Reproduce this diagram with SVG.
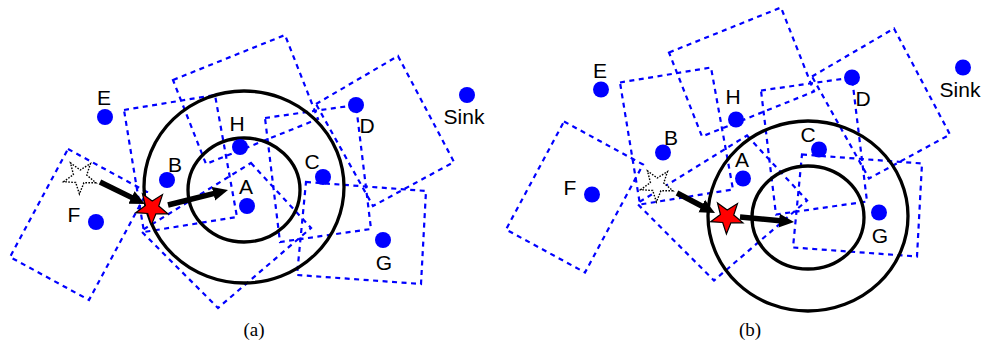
<svg xmlns="http://www.w3.org/2000/svg" xmlns:xlink="http://www.w3.org/1999/xlink" width="981" height="346" viewBox="0 0 981 346">
<style>
.cell{fill:none;stroke:#0000ff;stroke-width:2.2;stroke-dasharray:5 4.5}
.ring{fill:none;stroke:#000;stroke-width:3.3}
.dot{fill:#0000ff}
.lbl{font-family:"Liberation Sans",Arial,sans-serif;font-size:21px;fill:#000;text-anchor:middle}
.cap{font-family:"Liberation Serif","Times New Roman",serif;font-size:19px;fill:#000;text-anchor:middle}
.arrow{stroke:#000;stroke-width:5.5;fill:none;marker-end:url(#ah)}
.red{fill:#ff0000;stroke:#000;stroke-width:1.2}
.ghost{fill:#fff;stroke:#000;stroke-width:1.4;stroke-dasharray:1.6 1.4}
</style>
<defs>
<marker id="ah" markerWidth="16" markerHeight="16" refX="1" refY="8" orient="auto" markerUnits="userSpaceOnUse" viewBox="0 0 16 16"><path d="M0,1 L15,8 L0,15 z" fill="#000"/></marker>
<polygon id="star" points="15.97,5.81 3.91,5.80 -0.59,16.99 -4.31,5.52 -16.34,4.69 -6.58,-2.39 -9.51,-14.09 0.24,-7.00 10.47,-13.40 6.73,-1.93"/>
<g id="cells">
<path class="cell" d="M68,149 L147,192 L89,300 L10,257 Z"/>
<path class="cell" d="M124,110 L215,95 L237,217 L144,232 Z"/>
<path class="cell" d="M173,80 L285,35 L318,119 L206,164 Z"/>
<path class="cell" d="M316,104 L398,56 L454,162 L373,206 Z"/>
<path class="cell" d="M265,118 L356,105 L371,229 L280,242 Z"/>
<path class="cell" d="M306,182 L426,191 L421,284 L297,275 Z"/>
<path class="cell" d="M251,163 L311,228 L218,308 L141,231 Z"/>
</g>
</defs>
<rect width="981" height="346" fill="#fff"/>

<!-- panel (a) -->
<g id="panel-a">
<use xlink:href="#cells"/>
<ellipse class="ring" cx="244" cy="187" rx="100" ry="96"/>
<ellipse class="ring" cx="244" cy="190" rx="56" ry="52"/>
<g id="a-E"><circle class="dot" cx="105" cy="117" r="8"/><text class="lbl" x="104" y="105">E</text></g>
<g id="a-H"><circle class="dot" cx="240" cy="147" r="8"/><text class="lbl" x="237" y="131">H</text></g>
<g id="a-B"><circle class="dot" cx="167" cy="180" r="8"/><text class="lbl" x="175" y="172">B</text></g>
<g id="a-A"><circle class="dot" cx="247" cy="206" r="8"/><text class="lbl" x="246" y="194">A</text></g>
<g id="a-C"><circle class="dot" cx="323" cy="177" r="8"/><text class="lbl" x="312" y="169">C</text></g>
<g id="a-D"><circle class="dot" cx="356" cy="105" r="8"/><text class="lbl" x="367" y="133">D</text></g>
<g id="a-G"><circle class="dot" cx="383" cy="240" r="8"/><text class="lbl" x="384" y="270">G</text></g>
<g id="a-F"><circle class="dot" cx="96" cy="222" r="8"/><text class="lbl" x="74" y="222">F</text></g>
<g id="a-Sink"><circle class="dot" cx="467" cy="95" r="8"/><text class="lbl" x="464" y="124">Sink</text></g>
<use xlink:href="#star" class="ghost" transform="translate(80,177)"/>
<use xlink:href="#star" class="red" transform="translate(152,208)"/>
<g id="a-arrows">
<line class="arrow" x1="100" y1="182" x2="132.4" y2="197.9"/>
<line class="arrow" x1="168" y1="205" x2="214.4" y2="193.4"/>
</g>
<text class="cap" x="254" y="336">(a)</text>
</g>

<!-- panel (b) -->
<g id="panel-b">
<use xlink:href="#cells" transform="translate(496,-27.5)"/>
<ellipse class="ring" cx="808" cy="216" rx="100" ry="95"/>
<ellipse class="ring" cx="808" cy="217.5" rx="56" ry="51.5"/>
<g id="b-E"><circle class="dot" cx="601" cy="89.5" r="8"/><text class="lbl" x="600" y="77.5">E</text></g>
<g id="b-H"><circle class="dot" cx="736" cy="119.5" r="8"/><text class="lbl" x="733" y="103.5">H</text></g>
<g id="b-B"><circle class="dot" cx="663" cy="152.5" r="8"/><text class="lbl" x="671" y="144.5">B</text></g>
<g id="b-A"><circle class="dot" cx="743" cy="178.5" r="8"/><text class="lbl" x="742" y="166.5">A</text></g>
<g id="b-C"><circle class="dot" cx="819" cy="149.5" r="8"/><text class="lbl" x="808" y="141.5">C</text></g>
<g id="b-D"><circle class="dot" cx="852" cy="77.5" r="8"/><text class="lbl" x="863" y="105.5">D</text></g>
<g id="b-G"><circle class="dot" cx="879" cy="212.5" r="8"/><text class="lbl" x="880" y="242.5">G</text></g>
<g id="b-F"><circle class="dot" cx="592" cy="194.5" r="8"/><text class="lbl" x="570" y="194.5">F</text></g>
<g id="b-Sink"><circle class="dot" cx="963" cy="67.5" r="8"/><text class="lbl" x="960" y="96.5">Sink</text></g>
<use xlink:href="#star" class="ghost" transform="translate(657,185)"/>
<use xlink:href="#star" class="red" transform="translate(727,217)"/>
<g id="b-arrows">
<line class="arrow" x1="677" y1="193" x2="702.6" y2="206.5"/>
<line class="arrow" x1="740" y1="217" x2="780.1" y2="220.7"/>
</g>
<text class="cap" x="750" y="336">(b)</text>
</g>
</svg>
